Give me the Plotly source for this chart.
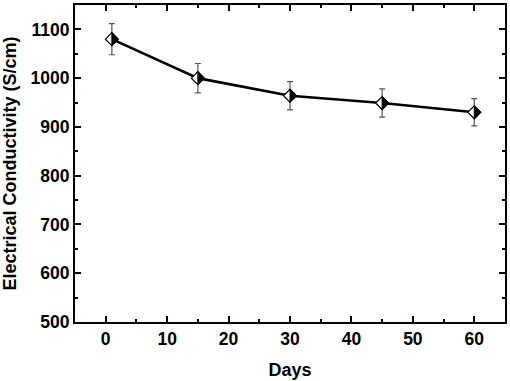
import plotly.graph_objects as go

days = [1, 15, 30, 45, 60]
conductivity = [1080, 1000, 964, 949, 930]
errors = [32, 30, 29, 29, 28]

fig = go.Figure()
fig.add_trace(go.Scatter(
    x=days, y=conductivity,
    mode="lines+markers",
    line=dict(color="black", width=2.6),
    marker=dict(symbol="diamond", size=10, color="white",
                line=dict(color="black", width=1.2)),
    error_y=dict(type="data", array=errors, color="#555555", thickness=1.2, width=3),
    showlegend=False,
))

# right half of each marker filled black
for xv, yv in zip(days, conductivity):
    fig.add_shape(type="path", xref="x", yref="y",
                  xsizemode="pixel", ysizemode="pixel",
                  xanchor=xv, yanchor=yv,
                  path="M 0,6.5 L 6.5,0 L 0,-6.5 Z",
                  fillcolor="black", line=dict(color="black", width=1),
                  layer="above")

font = "Liberation Sans, Arial, sans-serif"
axis_common = dict(
    showline=True, linecolor="black", linewidth=2, mirror="allticks",
    ticks="inside", ticklen=6, tickwidth=2, tickcolor="black",
    showgrid=False, zeroline=False, automargin=False,
    tickfont=dict(family=font, size=17.5, color="black", weight="bold"),
)
fig.update_xaxes(range=[-5, 65], tick0=0, dtick=10,
                 minor=dict(ticks="inside", ticklen=3, tickwidth=2, dtick=5, tickcolor="black"),
                 title=dict(text="<b>Days</b>", font=dict(family=font, size=18, color="black")),
                 **axis_common)
fig.update_yaxes(range=[500, 1150], tick0=500, dtick=100,
                 minor=dict(ticks="inside", ticklen=3, tickwidth=2, dtick=50, tickcolor="black"),
                 title=dict(text="<b>Electrical Conductivity (S/cm)</b>", font=dict(family=font, size=18, color="black")),
                 **axis_common)
fig.update_layout(width=510, height=381,
                  margin=dict(l=75, r=5, t=5, b=59),
                  paper_bgcolor="white", plot_bgcolor="white")
fig.write_html("out.html", config={"displayModeBar": False},
               post_script="document.body.style.margin='0';")
